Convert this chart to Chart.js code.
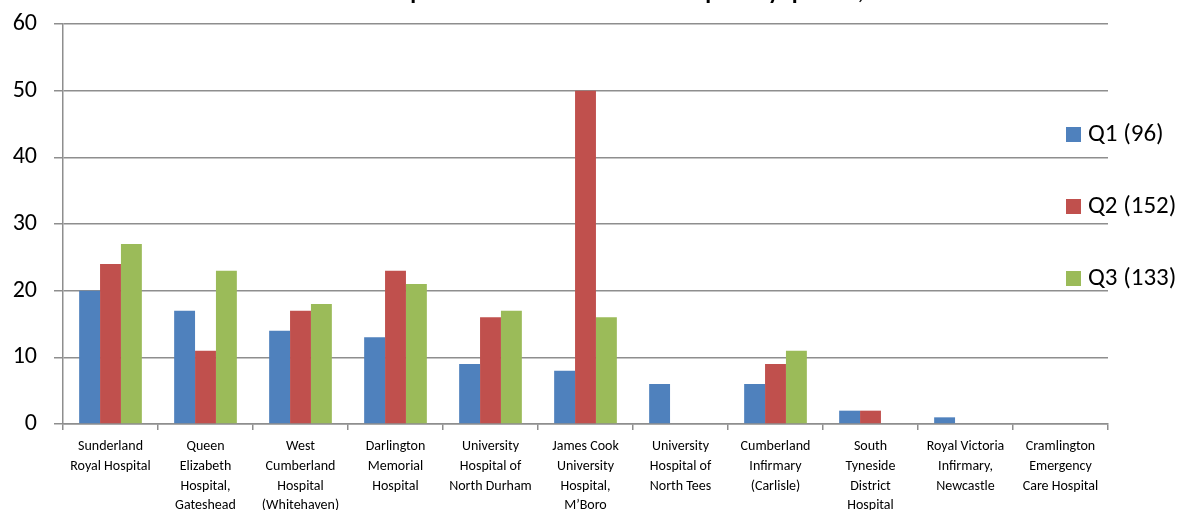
<!DOCTYPE html>
<html>
<head>
<meta charset="utf-8">
<script src="https://cdn.jsdelivr.net/npm/chart.js@4"></script>
<style>
  html, body { margin: 0; padding: 0; background: #fff; }
  #wrap { width: 1182px; height: 510px; position: relative; }
</style>
</head>
<body>
<div id="wrap"><canvas id="chart"></canvas></div>
<script>
// hospitals (multi-line labels as in the original)
const hospitals = [
  ["Sunderland", "Royal Hospital"],
  ["Queen", "Elizabeth", "Hospital,", "Gateshead"],
  ["West", "Cumberland", "Hospital", "(Whitehaven)"],
  ["Darlington", "Memorial", "Hospital"],
  ["University", "Hospital of", "North Durham"],
  ["James Cook", "University", "Hospital,", "M\u2019Boro"],
  ["University", "Hospital of", "North Tees"],
  ["Cumberland", "Infirmary", "(Carlisle)"],
  ["South", "Tyneside", "District", "Hospital"],
  ["Royal Victoria", "Infirmary,", "Newcastle"],
  ["Cramlington", "Emergency", "Care Hospital"]
];

const q1 = [20, 17, 14, 13, 9, 8, 6, 6, 2, 1, 0];
const q2 = [24, 11, 17, 23, 16, 50, 0, 9, 2, 0, 0];
const q3 = [27, 23, 18, 21, 17, 16, 0, 11, 0, 0, 0];

const seriesNames = ["Q1 (96)", "Q2 (152)", "Q3 (133)"];
const seriesColors = ["#4F81BD", "#C0504D", "#9BBB59"];

const titleText = "Number of patients attended at each hospital by quarter, 2013/14";

const FONT = "Carlito, 'Liberation Sans', sans-serif";
const GRID = "#8e8e8e";

// title is clipped at the top of the picture, legend sits over the right of the plot
const overlay = {
  id: "overlay",
  afterDraw(chart) {
    const ctx = chart.ctx;
    ctx.save();
    ctx.fillStyle = "#000";
    ctx.font = "bold 24px " + FONT;
    ctx.textAlign = "center";
    ctx.textBaseline = "alphabetic";
    ctx.fillText(titleText, 625, -1);

    ctx.font = "25px " + FONT;
    ctx.textAlign = "left";
    ctx.textBaseline = "middle";
    chart.data.datasets.forEach((ds, i) => {
      const cy = 134 + i * 72;
      ctx.fillStyle = ds.backgroundColor;
      ctx.fillRect(1066, cy - 7, 15, 15);
      ctx.fillStyle = "#000";
      ctx.fillText(ds.label, 1088, cy + 1);
    });
    ctx.restore();
  }
};

new Chart(document.getElementById("chart"), {
  type: "bar",
  data: {
    labels: hospitals,
    datasets: [
      { label: seriesNames[0], data: q1, backgroundColor: seriesColors[0] },
      { label: seriesNames[1], data: q2, backgroundColor: seriesColors[1] },
      { label: seriesNames[2], data: q3, backgroundColor: seriesColors[2] }
    ]
  },
  options: {
    responsive: true,
    maintainAspectRatio: false,
    animation: false,
    layout: { padding: { top: 24, right: 74, left: 0, bottom: 0 } },
    datasets: { bar: { barPercentage: 1, categoryPercentage: 0.66 } },
    plugins: {
      legend: { display: false },
      tooltip: { enabled: false }
    },
    scales: {
      x: {
        grid: {
          drawOnChartArea: false,
          drawTicks: true,
          tickLength: 6,
          color: GRID,
          lineWidth: 1.5
        },
        border: { color: GRID, width: 1.5 },
        ticks: {
          color: "#000",
          font: { family: FONT, size: 14, lineHeight: 1.4 },
          padding: 7,
          maxRotation: 0,
          autoSkip: false
        },
        afterFit(scale) { scale.height = 86; }
      },
      y: {
        min: 0,
        max: 60,
        ticks: {
          stepSize: 10,
          color: "#000",
          font: { family: FONT, size: 24 },
          padding: 17
        },
        grid: {
          color: GRID,
          lineWidth: 1.5,
          drawTicks: true,
          tickLength: 9
        },
        border: { color: GRID, width: 1.5 },
        afterFit(scale) {
          scale.width = 63;
          scale.paddingTop = 0;
          scale.paddingBottom = 0;
        }
      }
    }
  },
  plugins: [overlay]
});
</script>
</body>
</html>
